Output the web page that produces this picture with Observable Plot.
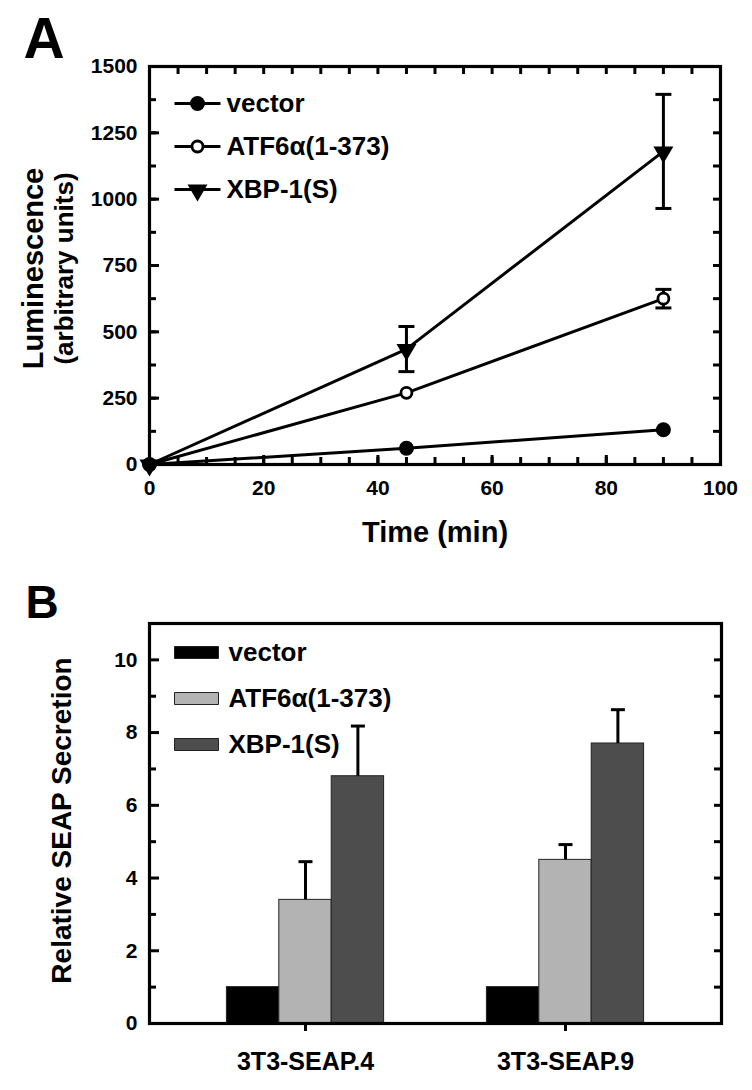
<!DOCTYPE html>
<html><head><meta charset="utf-8">
<script src="https://cdn.jsdelivr.net/npm/d3@7"></script>
<script src="https://cdn.jsdelivr.net/npm/@observablehq/plot@0.6"></script>
<style>body{margin:0;background:#fff;} svg{display:block;}</style>
</head><body><div id="a"></div><div id="b"></div>
<script>
// ---------- Panel A data ----------
const times = [0, 45, 90];
const seriesA = ["vector", "ATF6α(1-373)", "XBP-1(S)"];
const vectorLum = [0, 61, 131];
const vectorErr = [0, 0, 0];
const atfLum = [0, 270, 625];
const atfErr = [0, 0, 35];
const xbpLum = [0, 435, 1180];
const xbpErr = [0, 85, 215];
const yTicksA = [0, 250, 500, 750, 1000, 1250, 1500];
const yMinorA = [0, 125, 250, 375, 500, 625, 750, 875, 1000, 1125, 1250, 1375, 1500];
const xTicksA = [0, 20, 40, 60, 80, 100];
const xMinorA = [0, 5, 10, 15, 20, 25, 30, 35, 40, 45, 50, 55, 60, 65, 70, 75, 80, 85, 90, 95, 100];

// ---------- Panel B data ----------
const groupsB = ["3T3-SEAP.4", "3T3-SEAP.9"];
const seriesB = ["vector", "ATF6α(1-373)", "XBP-1(S)"];
const vectorRel = [1, 1];
const vectorRelErr = [0, 0];
const atfRel = [3.4, 4.5];
const atfRelErr = [1.05, 0.42];
const xbpRel = [6.8, 7.7];
const xbpRelErr = [1.38, 0.93];
const yTicksB = [0, 2, 4, 6, 8, 10];
const yMinorB = [1, 3, 5, 7, 9];
const yRightB = [1, 2, 3, 4, 5, 6, 7, 8, 9, 10];

// ---------- styles ----------
const font = "'Liberation Sans', Arial, Helvetica, sans-serif";
const barColors = ["#000000", "#b3b3b3", "#4d4d4d"];
const hline = (half) => ({draw(ctx) { ctx.moveTo(-half, 0); ctx.lineTo(half, 0); }});
const triDown = {draw(ctx) { ctx.moveTo(-10, -5); ctx.lineTo(10, -5); ctx.lineTo(0, 12); ctx.closePath(); }};
const swatch = {draw(ctx) { ctx.rect(-22, -6, 44, 12); }};
const style = {fontFamily: font, fontSize: "21px", fontWeight: "bold", background: "white", color: "black", overflow: "visible"};
const LW = 3;

// ---------- Panel A ----------
const lumValues = [vectorLum, atfLum, xbpLum];
const lumErrs = [vectorErr, atfErr, xbpErr];
const rowsA = seriesA.flatMap((s, i) => times.map((t, j) => ({series: s, time: t, value: lumValues[i][j], err: lumErrs[i][j]})));
const errRowsA = rowsA.filter(d => d.err > 0);
const markerA = (i, extra) => {
  if (i === 0) return {r: 7.5, fill: "black", ...extra};
  if (i === 1) return {r: 5.5, fill: "white", stroke: "black", strokeWidth: 2.8, ...extra};
  return {symbol: triDown, fill: "black", ...extra};
};
const noTxt = () => "";
const plain = d => String(d);

const plotA = Plot.plot({
  width: 752, height: 560,
  marginTop: 66, marginLeft: 149, marginRight: 32, marginBottom: 96,
  style,
  x: {domain: [0, 100], label: null},
  y: {domain: [0, 1500], label: null},
  marks: [
    Plot.axisY({ticks: yMinorA, tickSize: 7, insetLeft: 7, tickFormat: noTxt, strokeWidth: LW, label: null}),
    Plot.axisY({ticks: yTicksA, tickSize: 10, insetLeft: 10, tickPadding: 12, tickFormat: plain, strokeWidth: LW, label: null}),
    Plot.axisY({anchor: "right", ticks: yMinorA, tickSize: 8, insetRight: 8, tickFormat: noTxt, strokeWidth: LW, label: null}),
    Plot.axisX({ticks: xMinorA, tickSize: 7, insetBottom: 7, tickFormat: noTxt, strokeWidth: LW, label: null}),
    Plot.axisX({ticks: xTicksA, tickSize: 9, insetBottom: 9, tickPadding: 16, tickFormat: plain, strokeWidth: LW, label: null}),
    Plot.axisX({anchor: "top", ticks: xMinorA, tickSize: 7, insetTop: 7, tickFormat: noTxt, strokeWidth: LW, label: null}),
    Plot.frame({stroke: "black", strokeWidth: 3.2}),
    Plot.line(rowsA, {x: "time", y: "value", z: "series", stroke: "black", strokeWidth: LW}),
    Plot.ruleX(errRowsA, {x: "time", y1: d => d.value - d.err, y2: d => d.value + d.err, stroke: "black", strokeWidth: LW}),
    Plot.dot(errRowsA, {x: "time", y: d => d.value + d.err, symbol: hline(8), stroke: "black", strokeWidth: LW}),
    Plot.dot(errRowsA, {x: "time", y: d => d.value - d.err, symbol: hline(8), stroke: "black", strokeWidth: LW}),
    Plot.dot(rowsA.filter(d => d.series === seriesA[1]), markerA(1, {x: "time", y: "value"})),
    Plot.dot(rowsA.filter(d => d.series === seriesA[2]), markerA(2, {x: "time", y: "value"})),
    Plot.dot(rowsA.filter(d => d.series === seriesA[0]), markerA(0, {x: "time", y: "value"})),
    // legend
    ...seriesA.flatMap((s, i) => {
      const dy = 37 + i * 43;
      return [
        Plot.dot([s], {x: null, y: null, frameAnchor: "top-left", dx: 48, dy, symbol: hline(23), stroke: "black", strokeWidth: LW}),
        Plot.dot([s], markerA(i, {x: null, y: null, frameAnchor: "top-left", dx: 48, dy})),
        Plot.text([s], {x: null, y: null, frameAnchor: "top-left", dx: 77, dy, text: d => d, textAnchor: "start", lineAnchor: "middle", fontSize: 26})
      ];
    }),
    // titles
    Plot.text(["A"], {x: null, y: null, frameAnchor: "top-left", dx: -126, dy: -9, text: d => d, textAnchor: "start", lineAnchor: "bottom", fontSize: 57}),
    Plot.text(["Time (min)"], {x: null, y: null, frameAnchor: "bottom", dy: 77, text: d => d, textAnchor: "middle", lineAnchor: "bottom", fontSize: 29}),
    Plot.text(["Luminescence"], {x: null, y: null, frameAnchor: "left", dx: -107, dy: 3, rotate: -90, text: d => d, textAnchor: "middle", lineAnchor: "bottom", fontSize: 29}),
    Plot.text(["(arbitrary units)"], {x: null, y: null, frameAnchor: "left", dx: -77, dy: 3, rotate: -90, text: d => d, textAnchor: "middle", lineAnchor: "bottom", fontSize: 26})
  ]
});
document.getElementById("a").appendChild(plotA);

// ---------- Panel B ----------
const relValues = [vectorRel, atfRel, xbpRel];
const relErrs = [vectorRelErr, atfRelErr, xbpRelErr];
const rowsB = seriesB.flatMap((s, i) => groupsB.map((g, j) => ({series: s, idx: i, group: g, value: relValues[i][j], err: relErrs[i][j]})));
const barW = 52.4;
const bandW = 572 / 2.2;
const inset = (bandW - barW) / 2;

const plotB = Plot.plot({
  width: 752, height: 530,
  marginTop: 63, marginLeft: 149, marginRight: 31, marginBottom: 67,
  style,
  x: {type: "band", domain: groupsB, paddingInner: 0, paddingOuter: 0.1, label: null},
  y: {domain: [0, 11], label: null},
  marks: [
    ...seriesB.flatMap((s, i) => {
      const rows = rowsB.filter(d => d.idx === i);
      const dx = (i - 1) * barW;
      const errRows = rows.filter(d => d.err > 0);
      return [
        Plot.barY(rows, {x: "group", y: "value", fill: barColors[i], stroke: "#222", strokeWidth: 1, insetLeft: inset, insetRight: inset, dx}),
        Plot.ruleX(errRows, {x: "group", y1: "value", y2: d => d.value + d.err, dx, stroke: "black", strokeWidth: LW}),
        Plot.dot(errRows, {x: "group", y: d => d.value + d.err, dx, symbol: hline(7), stroke: "black", strokeWidth: LW})
      ];
    }),
    Plot.axisY({ticks: yMinorB, tickSize: 7, insetLeft: 7, tickFormat: noTxt, strokeWidth: LW, label: null}),
    Plot.axisY({ticks: yTicksB, tickSize: 10, insetLeft: 10, tickPadding: 12, tickFormat: plain, strokeWidth: LW, label: null}),
    Plot.axisY({anchor: "right", ticks: yRightB, tickSize: 8, insetRight: 8, tickFormat: noTxt, strokeWidth: LW, label: null}),
    Plot.axisX({tickSize: 8, tickPadding: 21, strokeWidth: LW, fontSize: 25, label: null}),
    Plot.frame({stroke: "black", strokeWidth: 3.2}),
    // legend
    ...seriesB.flatMap((s, i) => {
      const dy = 29 + i * 46;
      return [
        Plot.dot([s], {x: null, y: null, frameAnchor: "top-left", dx: 47, dy, symbol: swatch, fill: barColors[i], stroke: "#222", strokeWidth: 1}),
        Plot.text([s], {x: null, y: null, frameAnchor: "top-left", dx: 79, dy, text: d => d, textAnchor: "start", lineAnchor: "middle", fontSize: 26})
      ];
    }),
    Plot.text(["B"], {x: null, y: null, frameAnchor: "top-left", dx: -124, dy: -6, text: d => d, textAnchor: "start", lineAnchor: "bottom", fontSize: 46}),
    Plot.text(["Relative SEAP Secretion"], {x: null, y: null, frameAnchor: "left", dx: -79, dy: -3, rotate: -90, text: d => d, textAnchor: "middle", lineAnchor: "bottom", fontSize: 28})
  ]
});
document.getElementById("b").appendChild(plotB);
</script>
</body></html>
